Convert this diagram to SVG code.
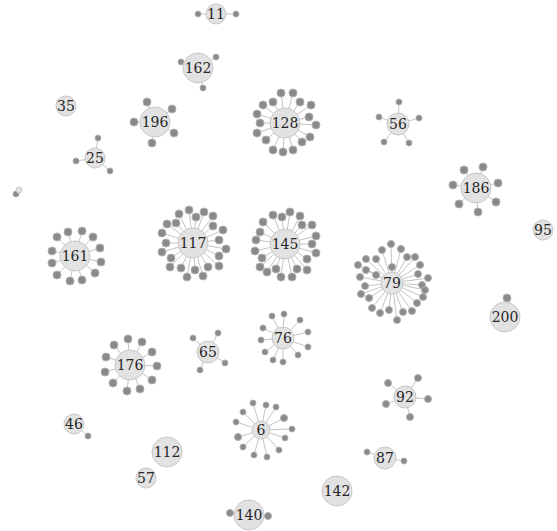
<svg xmlns="http://www.w3.org/2000/svg" width="557" height="531" viewBox="0 0 557 531">
<style>
.e{stroke:#c4c4c4;stroke-width:1}
.s{fill:#8a8a8a;stroke:#b0b0b0;stroke-width:1}
.h{fill:#e2e2e2;stroke:#c8c8c8;stroke-width:1}
.t{font-family:"DejaVu Serif","Liberation Serif",serif;font-size:14px;fill:#262626;text-anchor:middle;dominant-baseline:central}
</style>
<rect width="557" height="531" fill="#fff"/>
<g id="connectors">
<path class="e" d="M216 14L198 14M216 14L236 14
M198 68L181 62M198 68L216 57M198 68L203 88
M155 122L147 102M155 122L172 109M155 122L134 122M155 122L174 133M155 122L152 143
M95 158L98 138M95 158L76 161M95 158L110 171
M19 190L16 194
M285 123L281 93M285 123L293 93M285 123L273 102M285 123L300 102M285 123L263 105M285 123L311 105M285 123L257 114M285 123L309 117M285 123L260 123M285 123L316 125M285 123L257 133M285 123L310 137M285 123L266 140M285 123L302 142M285 123L273 150M285 123L283 152M285 123L293 150
M398 124L399 102M398 124L379 117M398 124L419 118M398 124L384 142M398 124L409 143
M476 188L464 170M476 188L483 167M476 188L453 185M476 188L498 183M476 188L459 204M476 188L496 202M476 188L478 212
M505 317L507 298
M193 243L179 214M193 243L189 210M193 243L204 212M193 243L213 216M193 243L167 224M193 243L176 223M193 243L196 217M193 243L213 226M193 243L223 230M193 243L162 233M193 243L166 243M193 243L219 240M193 243L226 249M193 243L162 252M193 243L171 258M193 243L219 256M193 243L170 267M193 243L181 268M193 243L195 270M193 243L208 267M193 243L219 266M193 243L187 277M193 243L203 276
M285 244L273 215M285 244L282 217M285 244L290 212M285 244L300 216M285 244L263 222M285 244L302 225M285 244L312 225M285 244L260 232M285 244L316 236M285 244L256 240M285 244L312 244M285 244L255 251M285 244L316 253M285 244L262 258M285 244L307 259M285 244L260 267M285 244L267 272M285 244L276 269M285 244L281 277M285 244L292 277M285 244L297 269M285 244L307 270
M75 256L68 232M75 256L82 231M75 256L57 237M75 256L93 237M75 256L52 251M75 256L100 248M75 256L52 263M75 256L101 262M75 256L57 275M75 256L95 273M75 256L70 281M75 256L82 280
M392 283L391 244M392 283L401 249M392 283L382 250M392 283L366 259M392 283L376 259M392 283L407 257M392 283L415 257M392 283L392 267M392 283L366 270M392 283L420 265M392 283L376 275M392 283L418 274M392 283L360 277M392 283L428 278M392 283L365 286M392 283L422 285M392 283L361 294M392 283L369 298M392 283L423 297M392 283L417 303M392 283L372 308M392 283L380 313M392 283L389 310M392 283L403 312M392 283L412 311M392 283L397 320M392 283L358 265M392 283L425 290
M130 365L114 345M130 365L128 339M130 365L142 342M130 365L152 352M130 365L106 357M130 365L157 366M130 365L105 372M130 365L152 380M130 365L113 383M130 365L127 391M130 365L140 389
M208 352L193 338M208 352L218 333M208 352L225 363M208 352L200 370
M283 338L272 316M283 338L284 314M283 338L300 320M283 338L263 328M283 338L308 332M283 338L261 340M283 338L308 347M283 338L265 352M283 338L298 355M283 338L273 360M283 338L283 362
M405 397L388 383M405 397L386 404M405 397L418 378M405 397L428 399M405 397L410 417
M261 430L253 403M261 430L266 405M261 430L276 407M261 430L243 412M261 430L284 418M261 430L236 422M261 430L292 429M261 430L238 437M261 430L285 438M261 430L243 447M261 430L279 450M261 430L254 455M261 430L267 457
M74 424L88 436
M385 458L367 452M385 458L404 461
M249 515L230 513M249 515L268 516"/>
</g>
<g id="satellites">
<g id="sat-11"><circle class="s" cx="198" cy="14" r="3"/><circle class="s" cx="236" cy="14" r="3"/></g>
<g id="sat-162"><circle class="s" cx="181" cy="62" r="3"/><circle class="s" cx="216" cy="57" r="3"/><circle class="s" cx="203" cy="88" r="3"/></g>
<g id="sat-196"><circle class="s" cx="147" cy="102" r="4"/><circle class="s" cx="172" cy="109" r="4"/><circle class="s" cx="134" cy="122" r="4"/><circle class="s" cx="174" cy="133" r="4"/><circle class="s" cx="152" cy="143" r="4"/></g>
<g id="sat-25"><circle class="s" cx="98" cy="138" r="3"/><circle class="s" cx="76" cy="161" r="3"/><circle class="s" cx="110" cy="171" r="3"/></g>
<g id="sat-x"><circle class="s" cx="16" cy="194" r="3"/></g>
<g id="sat-128"><circle class="s" cx="281" cy="93" r="4"/><circle class="s" cx="293" cy="93" r="4"/><circle class="s" cx="273" cy="102" r="4"/><circle class="s" cx="300" cy="102" r="4"/><circle class="s" cx="263" cy="105" r="4"/><circle class="s" cx="311" cy="105" r="4"/><circle class="s" cx="257" cy="114" r="4"/><circle class="s" cx="309" cy="117" r="4"/><circle class="s" cx="260" cy="123" r="4"/><circle class="s" cx="316" cy="125" r="4"/><circle class="s" cx="257" cy="133" r="4"/><circle class="s" cx="310" cy="137" r="4"/><circle class="s" cx="266" cy="140" r="4"/><circle class="s" cx="302" cy="142" r="4"/><circle class="s" cx="273" cy="150" r="4"/><circle class="s" cx="283" cy="152" r="4"/><circle class="s" cx="293" cy="150" r="4"/></g>
<g id="sat-56"><circle class="s" cx="399" cy="102" r="3"/><circle class="s" cx="379" cy="117" r="3"/><circle class="s" cx="419" cy="118" r="3"/><circle class="s" cx="384" cy="142" r="3"/><circle class="s" cx="409" cy="143" r="3"/></g>
<g id="sat-186"><circle class="s" cx="464" cy="170" r="4"/><circle class="s" cx="483" cy="167" r="4"/><circle class="s" cx="453" cy="185" r="4"/><circle class="s" cx="498" cy="183" r="4"/><circle class="s" cx="459" cy="204" r="4"/><circle class="s" cx="496" cy="202" r="4"/><circle class="s" cx="478" cy="212" r="4"/></g>
<g id="sat-200"><circle class="s" cx="507" cy="298" r="4"/></g>
<g id="sat-117"><circle class="s" cx="179" cy="214" r="4"/><circle class="s" cx="189" cy="210" r="4"/><circle class="s" cx="204" cy="212" r="4"/><circle class="s" cx="213" cy="216" r="4"/><circle class="s" cx="167" cy="224" r="4"/><circle class="s" cx="176" cy="223" r="4"/><circle class="s" cx="196" cy="217" r="4"/><circle class="s" cx="213" cy="226" r="4"/><circle class="s" cx="223" cy="230" r="4"/><circle class="s" cx="162" cy="233" r="4"/><circle class="s" cx="166" cy="243" r="4"/><circle class="s" cx="219" cy="240" r="4"/><circle class="s" cx="226" cy="249" r="4"/><circle class="s" cx="162" cy="252" r="4"/><circle class="s" cx="171" cy="258" r="4"/><circle class="s" cx="219" cy="256" r="4"/><circle class="s" cx="170" cy="267" r="4"/><circle class="s" cx="181" cy="268" r="4"/><circle class="s" cx="195" cy="270" r="4"/><circle class="s" cx="208" cy="267" r="4"/><circle class="s" cx="219" cy="266" r="4"/><circle class="s" cx="187" cy="277" r="4"/><circle class="s" cx="203" cy="276" r="4"/></g>
<g id="sat-145"><circle class="s" cx="273" cy="215" r="4"/><circle class="s" cx="282" cy="217" r="4"/><circle class="s" cx="290" cy="212" r="4"/><circle class="s" cx="300" cy="216" r="4"/><circle class="s" cx="263" cy="222" r="4"/><circle class="s" cx="302" cy="225" r="4"/><circle class="s" cx="312" cy="225" r="4"/><circle class="s" cx="260" cy="232" r="4"/><circle class="s" cx="316" cy="236" r="4"/><circle class="s" cx="256" cy="240" r="4"/><circle class="s" cx="312" cy="244" r="4"/><circle class="s" cx="255" cy="251" r="4"/><circle class="s" cx="316" cy="253" r="4"/><circle class="s" cx="262" cy="258" r="4"/><circle class="s" cx="307" cy="259" r="4"/><circle class="s" cx="260" cy="267" r="4"/><circle class="s" cx="267" cy="272" r="4"/><circle class="s" cx="276" cy="269" r="4"/><circle class="s" cx="281" cy="277" r="4"/><circle class="s" cx="292" cy="277" r="4"/><circle class="s" cx="297" cy="269" r="4"/><circle class="s" cx="307" cy="270" r="4"/></g>
<g id="sat-161"><circle class="s" cx="68" cy="232" r="4"/><circle class="s" cx="82" cy="231" r="4"/><circle class="s" cx="57" cy="237" r="4"/><circle class="s" cx="93" cy="237" r="4"/><circle class="s" cx="52" cy="251" r="4"/><circle class="s" cx="100" cy="248" r="4"/><circle class="s" cx="52" cy="263" r="4"/><circle class="s" cx="101" cy="262" r="4"/><circle class="s" cx="57" cy="275" r="4"/><circle class="s" cx="95" cy="273" r="4"/><circle class="s" cx="70" cy="281" r="4"/><circle class="s" cx="82" cy="280" r="4"/></g>
<g id="sat-79"><circle class="s" cx="391" cy="244" r="3.5"/><circle class="s" cx="401" cy="249" r="3.5"/><circle class="s" cx="382" cy="250" r="3.5"/><circle class="s" cx="366" cy="259" r="3.5"/><circle class="s" cx="376" cy="259" r="3.5"/><circle class="s" cx="407" cy="257" r="3.5"/><circle class="s" cx="415" cy="257" r="3.5"/><circle class="s" cx="392" cy="267" r="3.5"/><circle class="s" cx="366" cy="270" r="3.5"/><circle class="s" cx="420" cy="265" r="3.5"/><circle class="s" cx="376" cy="275" r="3.5"/><circle class="s" cx="418" cy="274" r="3.5"/><circle class="s" cx="360" cy="277" r="3.5"/><circle class="s" cx="428" cy="278" r="3.5"/><circle class="s" cx="365" cy="286" r="3.5"/><circle class="s" cx="422" cy="285" r="3.5"/><circle class="s" cx="361" cy="294" r="3.5"/><circle class="s" cx="369" cy="298" r="3.5"/><circle class="s" cx="423" cy="297" r="3.5"/><circle class="s" cx="417" cy="303" r="3.5"/><circle class="s" cx="372" cy="308" r="3.5"/><circle class="s" cx="380" cy="313" r="3.5"/><circle class="s" cx="389" cy="310" r="3.5"/><circle class="s" cx="403" cy="312" r="3.5"/><circle class="s" cx="412" cy="311" r="3.5"/><circle class="s" cx="397" cy="320" r="3.5"/><circle class="s" cx="358" cy="265" r="3.5"/><circle class="s" cx="425" cy="290" r="3.5"/></g>
<g id="sat-176"><circle class="s" cx="114" cy="345" r="4"/><circle class="s" cx="128" cy="339" r="4"/><circle class="s" cx="142" cy="342" r="4"/><circle class="s" cx="152" cy="352" r="4"/><circle class="s" cx="106" cy="357" r="4"/><circle class="s" cx="157" cy="366" r="4"/><circle class="s" cx="105" cy="372" r="4"/><circle class="s" cx="152" cy="380" r="4"/><circle class="s" cx="113" cy="383" r="4"/><circle class="s" cx="127" cy="391" r="4"/><circle class="s" cx="140" cy="389" r="4"/></g>
<g id="sat-65"><circle class="s" cx="193" cy="338" r="3"/><circle class="s" cx="218" cy="333" r="3"/><circle class="s" cx="225" cy="363" r="3"/><circle class="s" cx="200" cy="370" r="3"/></g>
<g id="sat-76"><circle class="s" cx="272" cy="316" r="3"/><circle class="s" cx="284" cy="314" r="3"/><circle class="s" cx="300" cy="320" r="3"/><circle class="s" cx="263" cy="328" r="3"/><circle class="s" cx="308" cy="332" r="3"/><circle class="s" cx="261" cy="340" r="3"/><circle class="s" cx="308" cy="347" r="3"/><circle class="s" cx="265" cy="352" r="3"/><circle class="s" cx="298" cy="355" r="3"/><circle class="s" cx="273" cy="360" r="3"/><circle class="s" cx="283" cy="362" r="3"/></g>
<g id="sat-92"><circle class="s" cx="388" cy="383" r="3.5"/><circle class="s" cx="386" cy="404" r="3.5"/><circle class="s" cx="418" cy="378" r="3.5"/><circle class="s" cx="428" cy="399" r="3.5"/><circle class="s" cx="410" cy="417" r="3.5"/></g>
<g id="sat-6"><circle class="s" cx="253" cy="403" r="3"/><circle class="s" cx="266" cy="405" r="3"/><circle class="s" cx="276" cy="407" r="3"/><circle class="s" cx="243" cy="412" r="3"/><circle class="s" cx="284" cy="418" r="3.5"/><circle class="s" cx="236" cy="422" r="3"/><circle class="s" cx="292" cy="429" r="3"/><circle class="s" cx="238" cy="437" r="3.5"/><circle class="s" cx="285" cy="438" r="3"/><circle class="s" cx="243" cy="447" r="3"/><circle class="s" cx="279" cy="450" r="3"/><circle class="s" cx="254" cy="455" r="3"/><circle class="s" cx="267" cy="457" r="3"/></g>
<g id="sat-46"><circle class="s" cx="88" cy="436" r="3"/></g>
<g id="sat-87"><circle class="s" cx="367" cy="452" r="3"/><circle class="s" cx="404" cy="461" r="3"/></g>
<g id="sat-140"><circle class="s" cx="230" cy="513" r="3.5"/><circle class="s" cx="268" cy="516" r="3.5"/></g>
</g>
<g id="hubs">
<g id="n11"><circle class="h" cx="216" cy="14" r="10"/><text class="t" x="216" y="14">11</text></g>
<g id="n162"><circle class="h" cx="198" cy="68" r="15"/><text class="t" x="198" y="68">162</text></g>
<g id="n35"><circle class="h" cx="66" cy="106" r="10"/><text class="t" x="66" y="106">35</text></g>
<g id="n196"><circle class="h" cx="155" cy="122" r="15"/><text class="t" x="155" y="122">196</text></g>
<g id="n25"><circle class="h" cx="95" cy="158" r="10"/><text class="t" x="95" y="158">25</text></g>
<g id="nx"><circle class="h" cx="19" cy="190" r="3"/></g>
<g id="n128"><circle class="h" cx="285" cy="123" r="15"/><text class="t" x="285" y="123">128</text></g>
<g id="n56"><circle class="h" cx="398" cy="124" r="11"/><text class="t" x="398" y="124">56</text></g>
<g id="n186"><circle class="h" cx="476" cy="188" r="15"/><text class="t" x="476" y="188">186</text></g>
<g id="n95"><circle class="h" cx="543" cy="230" r="10"/><text class="t" x="543" y="230">95</text></g>
<g id="n200"><circle class="h" cx="505" cy="317" r="15"/><text class="t" x="505" y="317">200</text></g>
<g id="n117"><circle class="h" cx="193" cy="243" r="15"/><text class="t" x="193" y="243">117</text></g>
<g id="n145"><circle class="h" cx="285" cy="244" r="15"/><text class="t" x="285" y="244">145</text></g>
<g id="n161"><circle class="h" cx="75" cy="256" r="15"/><text class="t" x="75" y="256">161</text></g>
<g id="n79"><circle class="h" cx="392" cy="283" r="11"/><text class="t" x="392" y="283">79</text></g>
<g id="n176"><circle class="h" cx="130" cy="365" r="15"/><text class="t" x="130" y="365">176</text></g>
<g id="n65"><circle class="h" cx="208" cy="352" r="11"/><text class="t" x="208" y="352">65</text></g>
<g id="n76"><circle class="h" cx="283" cy="338" r="11"/><text class="t" x="283" y="338">76</text></g>
<g id="n92"><circle class="h" cx="405" cy="397" r="11"/><text class="t" x="405" y="397">92</text></g>
<g id="n6"><circle class="h" cx="261" cy="430" r="9"/><text class="t" x="261" y="430">6</text></g>
<g id="n46"><circle class="h" cx="74" cy="424" r="10"/><text class="t" x="74" y="424">46</text></g>
<g id="n112"><circle class="h" cx="167" cy="452" r="15"/><text class="t" x="167" y="452">112</text></g>
<g id="n57"><circle class="h" cx="146" cy="478" r="10"/><text class="t" x="146" y="478">57</text></g>
<g id="n87"><circle class="h" cx="385" cy="458" r="11"/><text class="t" x="385" y="458">87</text></g>
<g id="n142"><circle class="h" cx="337" cy="491" r="15"/><text class="t" x="337" y="491">142</text></g>
<g id="n140"><circle class="h" cx="249" cy="515" r="15"/><text class="t" x="249" y="515">140</text></g>
</g>
</svg>
